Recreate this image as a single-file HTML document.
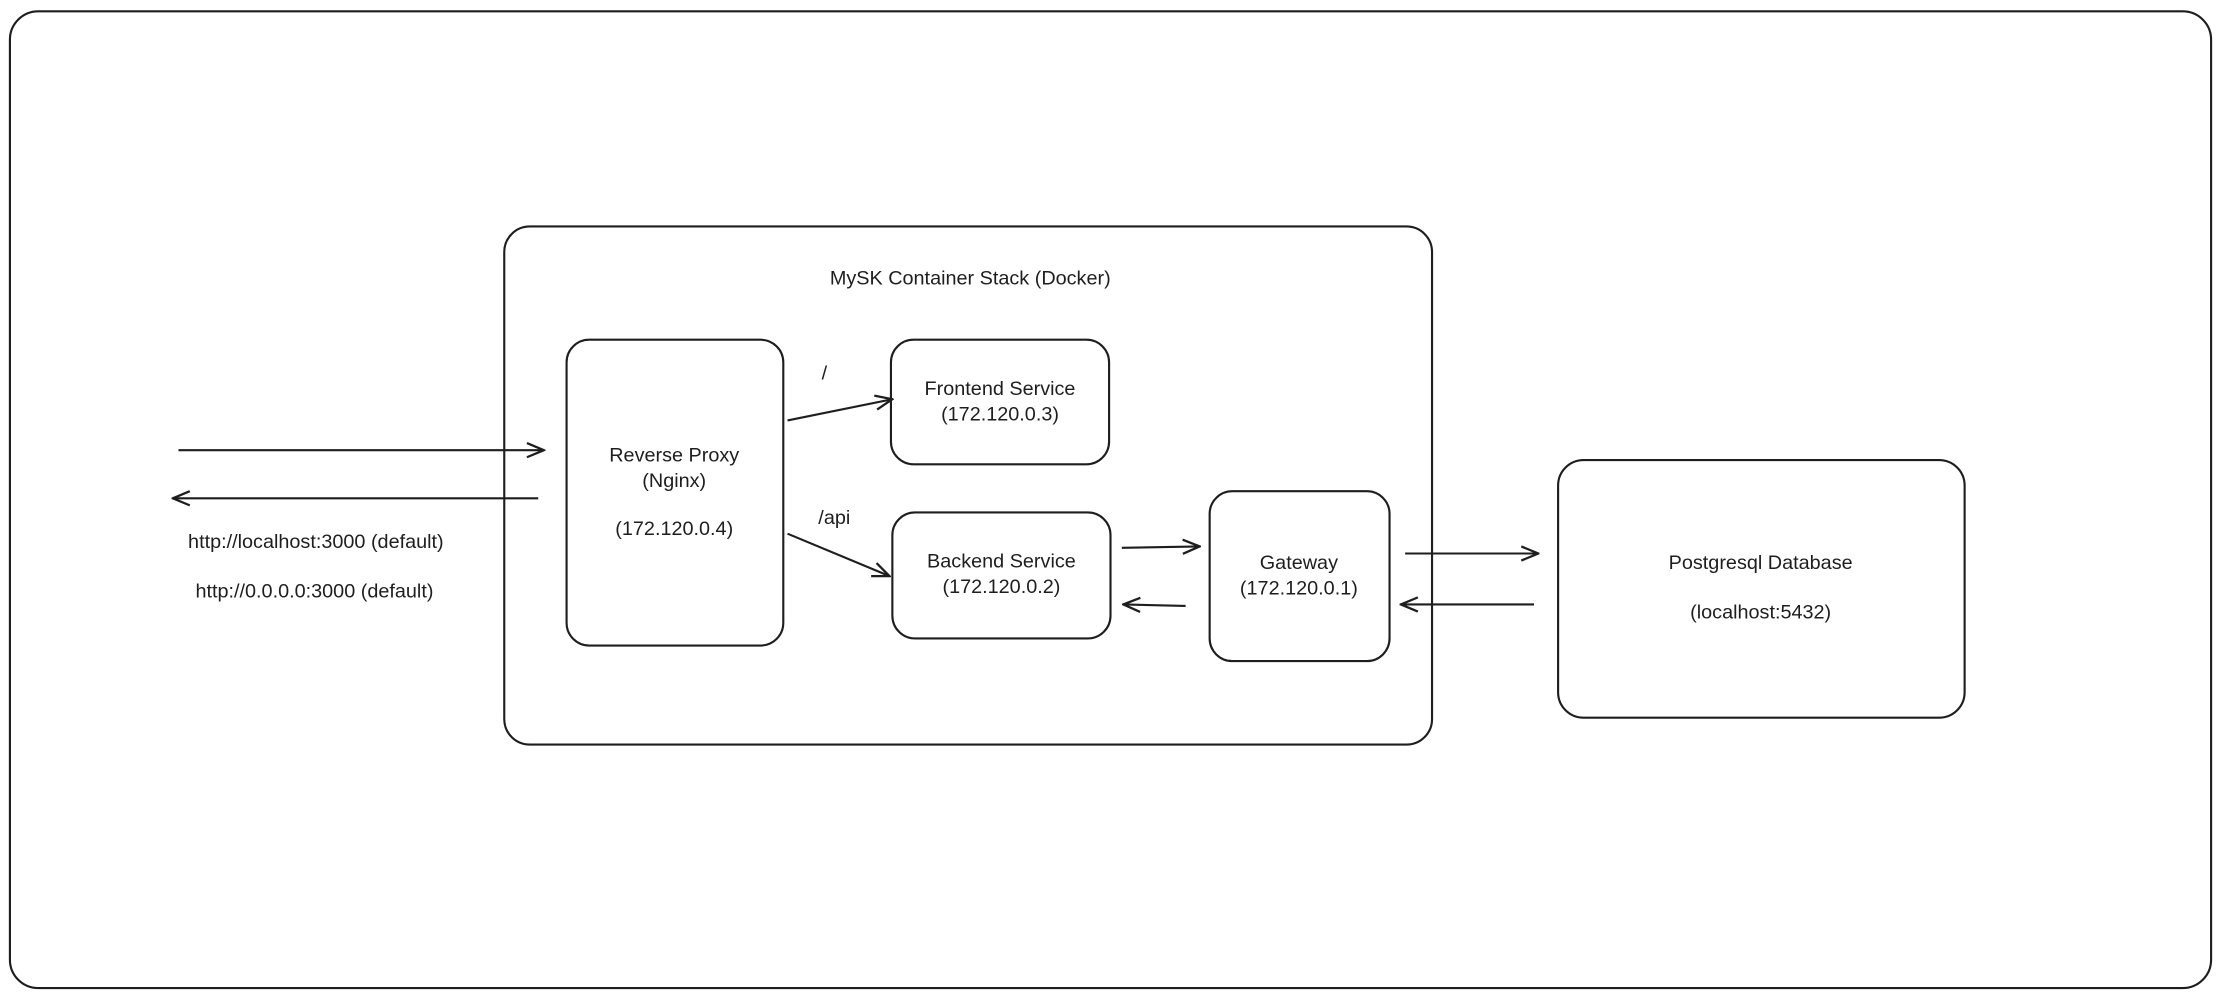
<!DOCTYPE html>
<html><head><meta charset="utf-8"><style>
html,body{margin:0;padding:0;background:#fff;}
svg{display:block;}
text{font-family:"Liberation Sans",sans-serif;font-size:14px;fill:#1e1e1e;text-anchor:middle;}
</style></head><body>
<svg width="2221" height="998" viewBox="0 0 1568 705" preserveAspectRatio="none" xmlns="http://www.w3.org/2000/svg">
<defs><marker id="a" markerWidth="14" markerHeight="12" refX="13" refY="6" orient="auto" markerUnits="userSpaceOnUse"><path d="M1,1 L13,6 L1,11" fill="none" stroke="#1e1e1e" stroke-width="1.6"/></marker></defs>
<g fill="none" stroke="#1e1e1e" stroke-width="1.5">
<rect x="7" y="8" width="1554" height="690" rx="20"/>
<rect x="356" y="160" width="655" height="366" rx="18"/>
<rect x="400" y="240" width="153" height="216" rx="16"/>
<rect x="629" y="240" width="154" height="88" rx="16"/>
<rect x="630" y="362" width="154" height="89" rx="16"/>
<rect x="854" y="347" width="127" height="120" rx="16"/>
<rect x="1100" y="325" width="287" height="182" rx="18"/>
<g marker-end="url(#a)">
<line x1="126" y1="318" x2="384" y2="318"/>
<line x1="380" y1="352" x2="122" y2="352"/>
<line x1="556" y1="297" x2="630" y2="282"/>
<line x1="556" y1="377" x2="628" y2="407"/>
<line x1="792" y1="387" x2="847" y2="386"/>
<line x1="837" y1="428" x2="793" y2="427"/>
<line x1="992" y1="391" x2="1086" y2="391"/>
<line x1="1083" y1="427" x2="989" y2="427"/>
</g></g>
<text x="685" y="201">MySK Container Stack (Docker)</text>
<text x="476" y="326">Reverse Proxy</text>
<text x="476" y="344">(Nginx)</text>
<text x="476" y="378">(172.120.0.4)</text>
<text x="706" y="279">Frontend Service</text>
<text x="706" y="297">(172.120.0.3)</text>
<text x="707" y="401">Backend Service</text>
<text x="707" y="419">(172.120.0.2)</text>
<text x="917" y="402">Gateway</text>
<text x="917" y="420">(172.120.0.1)</text>
<text x="1243" y="402">Postgresql Database</text>
<text x="1243" y="437">(localhost:5432)</text>
<text x="223" y="387">http://localhost:3000 (default)</text>
<text x="222" y="422">http://0.0.0.0:3000 (default)</text>
<text x="582" y="268">/</text>
<text x="589" y="370">/api</text>
</svg>
</body></html>
